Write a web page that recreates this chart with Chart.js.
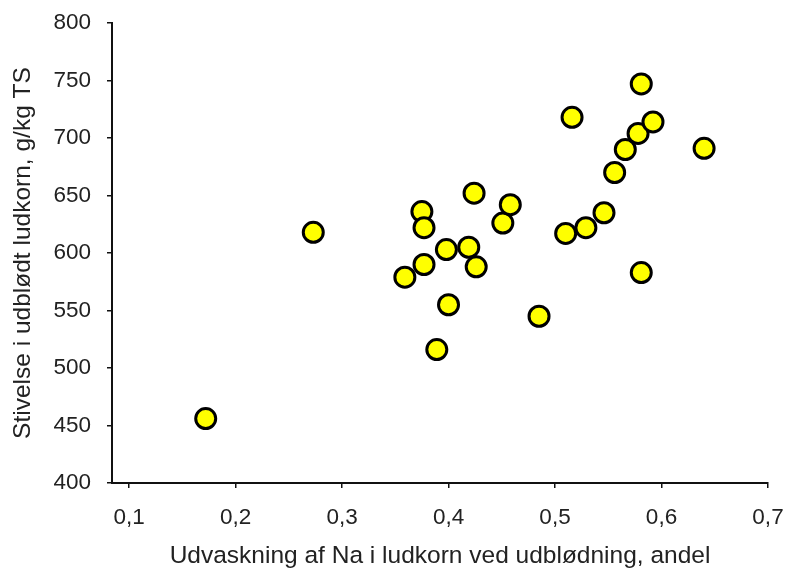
<!DOCTYPE html>
<html>
<head>
<meta charset="utf-8">
<script src="https://cdn.jsdelivr.net/npm/chart.js@4"></script>
<style>
  html, body { margin: 0; padding: 0; background: #fff; }
  #wrap { width: 787px; height: 573px; }
</style>
</head>
<body>
<div id="wrap"><canvas id="chart" width="787" height="573"></canvas></div>
<script>
// Udvaskning af Na (andel) vs. stivelse i udblødt ludkorn (g/kg TS)
const naLeach = [0.172, 0.273, 0.359, 0.377, 0.375, 0.377, 0.398, 0.400, 0.389, 0.419, 0.426, 0.424, 0.451,
  0.458, 0.485, 0.510, 0.529, 0.546, 0.516, 0.556, 0.566, 0.578, 0.592, 0.581, 0.581, 0.640];
const starch = [456, 618, 579, 590, 636, 622, 603, 555, 516, 605, 588, 652, 626,
  642, 545, 617, 622, 635, 718, 670, 690, 704, 714, 747, 583, 691];
const xTicks = [0.1, 0.2, 0.3, 0.4, 0.5, 0.6, 0.7];
const yTicks = [400, 450, 500, 550, 600, 650, 700, 750, 800];

const font = { family: "'Liberation Sans', Arial, sans-serif", size: 22.5 };
const titleFont = { family: "'Liberation Sans', Arial, sans-serif", size: 24.5 };

new Chart(document.getElementById("chart"), {
  type: "scatter",
  data: {
    datasets: [{
      data: naLeach.map((x, i) => ({ x: x, y: starch[i] })),
      backgroundColor: "#ffff00",
      borderColor: "#000",
      borderWidth: 3,
      pointRadius: 10,
      pointHoverRadius: 10
    }]
  },
  options: {
    responsive: false,
    animation: false,
    layout: { padding: { top: 23, right: 19, left: 0, bottom: 0 } },
    plugins: { legend: { display: false }, tooltip: { enabled: false } },
    scales: {
      x: {
        type: "linear",
        min: 0.084, max: 0.7,
        afterBuildTicks: s => { s.ticks = xTicks.map(v => ({ value: v })); },
        afterFit: s => { s.height = 90; s.paddingLeft = 0; s.paddingRight = 0; },
        border: { color: "#111", width: 2 },
        grid: { drawOnChartArea: false, color: "#111", tickLength: 5, lineWidth: 1.5 },
        ticks: { color: "#222", font: font, padding: 16, callback: v => v.toFixed(1).replace(".", ",") },
        title: { display: true, text: "Udvaskning af Na i ludkorn ved udblødning, andel", color: "#222", font: titleFont, padding: { top: 4, bottom: 2 } }
      },
      y: {
        min: 400, max: 800,
        afterBuildTicks: s => { s.ticks = yTicks.map(v => ({ value: v })); },
        afterFit: s => { s.width = 112; s.paddingTop = 0; s.paddingBottom = 0; },
        border: { color: "#111", width: 2 },
        grid: { drawOnChartArea: false, color: "#111", tickLength: 5, lineWidth: 1.5 },
        ticks: { color: "#222", font: font, padding: 16 },
        title: { display: true, text: "Stivelse i udblødt ludkorn, g/kg TS", color: "#222", font: titleFont, padding: { top: 9, bottom: 0 } }
      }
    }
  }
});
</script>
</body>
</html>
